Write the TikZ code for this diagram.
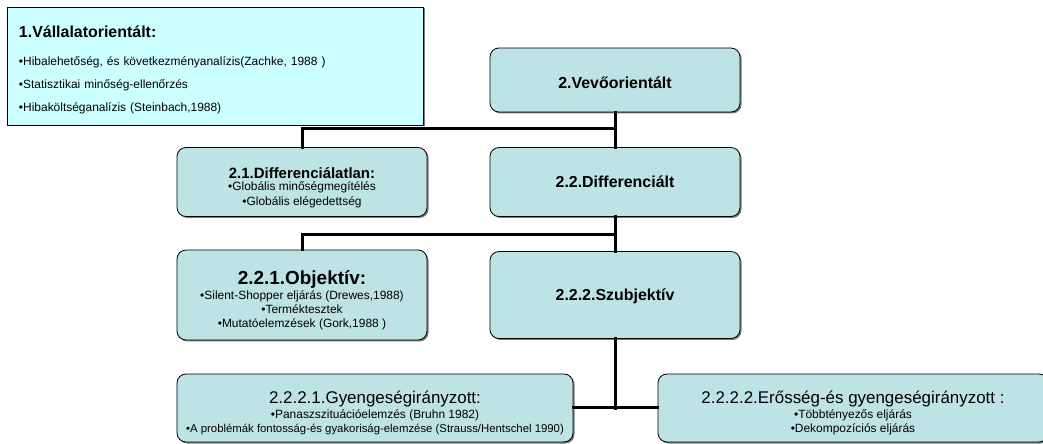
\documentclass[tikz,border=0pt]{standalone}
\usepackage{fontspec}
\setmainfont{Liberation Sans}
\usetikzlibrary{shadows}
\definecolor{kek}{HTML}{BEE3E5}
\definecolor{vilagos}{HTML}{CCFFFF}
\definecolor{arnyek}{HTML}{7A7A7A}
\newcommand{\cim}[2][15]{{\fontsize{#1}{#1}\selectfont\bfseries #2}}
\newcommand{\cimv}[1]{{\fontsize{17}{18}\selectfont #1}}
\newcommand{\emel}[1]{\rule{0pt}{#1}}

\begin{document}
\begin{tikzpicture}[x=1bp, y=-1bp,
  font=\fontsize{12}{14}\selectfont,
  doboz/.style={draw=black, line width=0.8bp, fill=kek, rounded corners=9bp,
    align=center, inner sep=2bp, minimum width=250bp,
    drop shadow={shadow xshift=1.5bp, shadow yshift=-1.5bp, fill=arnyek, opacity=1}},
  ag/.style={line width=3bp, line cap=rect}]
  \clip (0,0) rectangle (1043,444);
  \fill[white] (0,0) rectangle (1043,444);

  \node[draw=black, line width=0.8bp, fill=vilagos, minimum width=416bp, minimum height=118bp,
    text width=392bp, align=left, inner sep=0pt,
    drop shadow={shadow xshift=1.5bp, shadow yshift=-1.5bp, fill=arnyek, opacity=1}] (v1) at (215,66)
    {\emel{20bp}\cim[16]{1.Vállalatorientált:}\\[14bp]
     •Hibalehetőség, és következményanalízis(Zachke, 1988 )\\[9bp]
     •Statisztikai minőség-ellenőrzés\\[9bp]
     •Hibaköltséganalízis (Steinbach,1988)};

  \node[doboz, minimum height=64bp] (v2) at (615,80) {\emel{17bp}\cim[16]{2.Vevőorientált}};
  \node[doboz, minimum height=69bp] (v21) at (302,182)
    {\emel{23bp}\cim{2.1.Differenciálatlan:}\\[-2bp] •Globális minőségmegítélés\\[1bp] •Globális elégedettség};
  \node[doboz, minimum height=69bp] (v22) at (615,182) {\cim[16]{2.2.Differenciált}};
  \node[doboz, minimum height=90bp] (v221) at (302,295)
    {\emel{24bp}\cim[19]{2.2.1.Objektív:}\\[1bp] •Silent-Shopper eljárás (Drewes,1988)\\[0bp] •Terméktesztek\\[0bp] •Mutatóelemzések (Gork,1988 )};
  \node[doboz, minimum height=87bp] (v222) at (615,295) {\emel{14bp}\cim[16]{2.2.2.Szubjektív}};
  \node[doboz, minimum width=396bp, minimum height=68bp] (v2221) at (375,408)
    {\emel{23bp}\cimv{2.2.2.1.Gyengeségirányzott:}\\[1bp] •Panaszszituációelemzés (Bruhn 1982)\\[0bp]
     {\fontsize{11.4}{14}\selectfont •A problémák fontosság-és gyakoriság-elemzése (Strauss/Hentschel 1990)}};
  \node[doboz, minimum width=390bp, minimum height=68bp] (v2222) at (853,408)
    {\emel{23bp}\cimv{2.2.2.2.Erősség-és gyengeségirányzott :}\\[1bp] •Többtényezős eljárás\\[0bp] •Dekompozíciós eljárás};

  \coordinate (j1) at (615,129);
  \coordinate (j2) at (615,235);
  \coordinate (j3) at (615,409);
  \draw[ag] (v2) -- (v22);
  \draw[ag] (v21.north) |- (j1);
  \draw[ag] (v22) -- (v222);
  \draw[ag] (v221.north) |- (j2);
  \draw[ag] (v222.south) -- (j3);
  \draw[ag] (v2221) -- (v2222);
\end{tikzpicture}
\end{document}
